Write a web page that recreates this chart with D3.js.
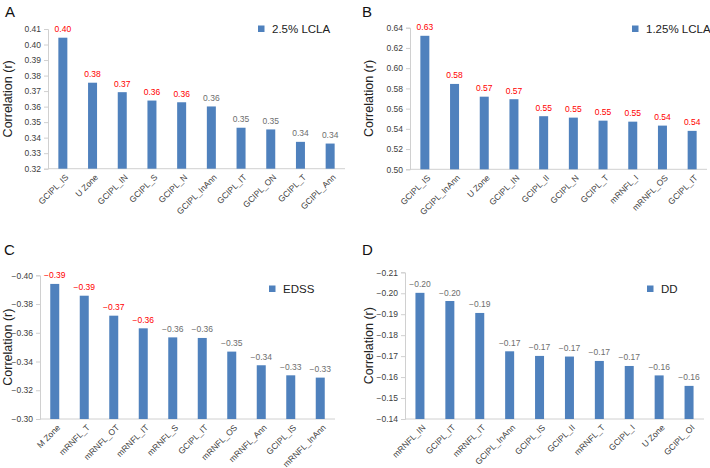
<!DOCTYPE html>
<html><head><meta charset="utf-8">
<script src="https://cdn.jsdelivr.net/npm/d3@7"></script>
<style>body{margin:0;background:#fff}svg{display:block;font-family:Arial,"Liberation Sans",sans-serif}</style>
</head><body>
<svg id="c" width="710" height="468"></svg>
<script>
// ---- data ----
const catsA = ["GCIPL_IS","U Zone","GCIPL_IN","GCIPL_S","GCIPL_N","GCIPL_InAnn","GCIPL_IT","GCIPL_ON","GCIPL_T","GCIPL_Ann"];
const valsA = [0.4044,0.3754,0.3693,0.3639,0.3628,0.3601,0.3464,0.3453,0.3373,0.3362];
const redA = [true,true,true,true,true,false,false,false,false,false];
const ticksA = [0.32,0.33,0.34,0.35,0.36,0.37,0.38,0.39,0.40,0.41];
const legendA = "2.5% LCLA";

const catsB = ["GCIPL_IS","GCIPL_InAnn","U Zone","GCIPL_IN","GCIPL_II","GCIPL_N","GCIPL_T","mRNFL_I","mRNFL_OS","GCIPL_IT"];
const valsB = [0.632,0.5844,0.5718,0.5693,0.5525,0.5511,0.5481,0.5471,0.5432,0.538];
const redB = [true,true,true,true,true,true,true,true,true,true];
const ticksB = [0.50,0.52,0.54,0.56,0.58,0.60,0.62,0.64];
const legendB = "1.25% LCLA";

const catsC = ["M Zone","mRNFL_T","mRNFL_OT","mRNFL_IT","mRNFL_S","GCIPL_IT","mRNFL_OS","mRNFL_Ann","GCIPL_IS","mRNFL_InAnn"];
const valsC = [-0.394,-0.3858,-0.3719,-0.3631,-0.3568,-0.3564,-0.3469,-0.3374,-0.3304,-0.3288];
const redC = [true,true,true,true,false,false,false,false,false,false];
const ticksC = [-0.30,-0.32,-0.34,-0.36,-0.38,-0.40];
const legendC = "EDSS";

const catsD = ["mRNFL_IN","GCIPL_IT","mRNFL_IT","GCIPL_InAnn","GCIPL_IS","GCIPL_II","mRNFL_T","GCIPL_I","U Zone","GCIPL_OI"];
const valsD = [-0.2002,-0.1963,-0.1906,-0.1723,-0.1701,-0.1698,-0.1677,-0.1653,-0.1608,-0.1558];
const redD = [false,false,false,false,false,false,false,false,false,false];
const ticksD = [-0.14,-0.15,-0.16,-0.17,-0.18,-0.19,-0.20,-0.21];
const legendD = "DD";

// ---- layout ----
const panels = [
  {letter:"A", cats:catsA, vals:valsA, red:redA, ticks:ticksA, legend:legendA,
   dom:[0.32,0.41], yr:[168.7,29], xr:[48,345], lx:5, ly:17, tx:8, leg:[258,33]},
  {letter:"B", cats:catsB, vals:valsB, red:redB, ticks:ticksB, legend:legendB,
   dom:[0.50,0.64], yr:[169.3,27.7], xr:[410,707], lx:362, ly:17, tx:369, leg:[632,33]},
  {letter:"C", cats:catsC, vals:valsC, red:redC, ticks:ticksC, legend:legendC,
   dom:[-0.30,-0.40], yr:[419,275.3], xr:[40,335], lx:4, ly:255, tx:8, leg:[269,293]},
  {letter:"D", cats:catsD, vals:valsD, red:redD, ticks:ticksD, legend:legendD,
   dom:[-0.14,-0.21], yr:[419,272.3], xr:[405,704], lx:362, ly:255, tx:369, leg:[647,293]}
];

const svg = d3.select("#c");
const fmt = d3.format(".2f");
const BLUE = "#4F81BD";

panels.forEach(p => {
  const g = svg.append("g");
  const y = d3.scaleLinear().domain(p.dom).range(p.yr);
  const x = d3.scaleBand().domain(p.cats).range(p.xr).padding(0);
  const bw = 9;
  const base = p.yr[0];

  // y axis
  const ya = g.append("g").attr("transform", `translate(${p.xr[0]},0)`)
    .call(d3.axisLeft(y).tickValues(p.ticks).tickFormat(fmt).tickSize(4).tickPadding(3));
  ya.select(".domain").attr("stroke","#D0D0D0");
  ya.selectAll(".tick line").attr("stroke","#D0D0D0");
  ya.selectAll(".tick text").attr("fill","#404040").style("font-size","8.5px").style("font-family","Arial, Liberation Sans, sans-serif");

  // x axis line
  g.append("line").attr("x1",p.xr[0]).attr("x2",p.xr[1]).attr("y1",base).attr("y2",base)
    .attr("stroke","#D0D0D0");

  // bars
  g.selectAll("rect.bar").data(p.vals).join("rect")
    .attr("x",(d,i)=>x(p.cats[i])+x.bandwidth()/2-bw/2)
    .attr("width",bw)
    .attr("y",d=>y(d))
    .attr("height",d=>base-y(d))
    .attr("fill",BLUE);

  // data labels
  g.selectAll("text.val").data(p.vals).join("text")
    .attr("x",(d,i)=>x(p.cats[i])+x.bandwidth()/2)
    .attr("y",d=>y(d)-5.5)
    .attr("text-anchor","middle")
    .style("font-size","8.5px")
    .attr("fill",(d,i)=>p.red[i]?"#FF0000":"#6E6E6E")
    .text(d=>fmt(d));

  // x labels
  g.selectAll("text.cat").data(p.cats).join("text")
    .attr("transform",d=>`translate(${x(d)+x.bandwidth()/2+4},${base+7}) rotate(-45)`)
    .attr("text-anchor","end")
    .attr("dy","0.35em")
    .style("font-size","8.5px")
    .attr("fill","#404040")
    .text(d=>d);

  // y title
  const cy = (p.yr[0]+p.yr[1])/2;
  g.append("text").attr("transform",`translate(${p.tx},${cy}) rotate(-90)`)
    .attr("text-anchor","middle").attr("dy","0.35em")
    .style("font-size","12.5px").attr("fill","#222")
    .text("Correlation (r)");

  // panel letter
  g.append("text").attr("x",p.lx).attr("y",p.ly).style("font-size","15px").attr("fill","#111").text(p.letter);

  // legend
  g.append("rect").attr("x",p.leg[0]).attr("y",p.leg[1]-7.5).attr("width",6.5).attr("height",6.5).attr("fill",BLUE);
  g.append("text").attr("x",p.leg[0]+14).attr("y",p.leg[1]).style("font-size","11.5px").attr("fill","#222").text(p.legend);
});
</script>
</body></html>
